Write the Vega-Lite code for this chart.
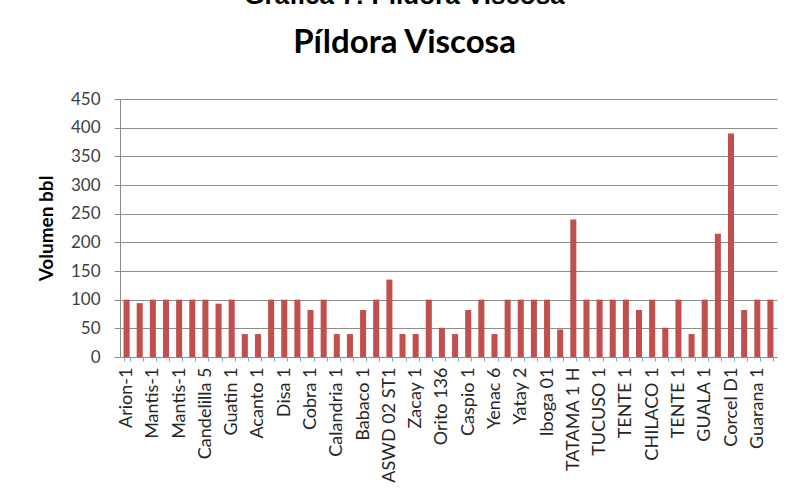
{
  "$schema": "https://vega.github.io/schema/vega-lite/v6.json",
  "autosize": "none",
  "width": 657,
  "height": 258,
  "padding": {"left": 120, "top": 99, "right": 11, "bottom": 136},
  "background": "white",
  "title": {
    "text": "Gráfica 7: Píldora Viscosa",
    "subtitle": "Píldora Viscosa",
    "anchor": "middle",
    "dx": -44,
    "offset": 30,
    "font": "Liberation Sans",
    "fontSize": 26,
    "fontWeight": "bold",
    "color": "#000000",
    "subtitleFont": "Lato",
    "subtitleFontSize": 33,
    "subtitleFontWeight": "bold",
    "subtitleColor": "#000000",
    "subtitlePadding": 18
  },
  "data": {
    "values": [
      {"pozo": "01|Arion-1", "volumen": 100},
      {"pozo": "02|", "volumen": 94},
      {"pozo": "03|Mantis-1", "volumen": 100},
      {"pozo": "04|", "volumen": 100},
      {"pozo": "05|Mantis-1", "volumen": 100},
      {"pozo": "06|", "volumen": 100},
      {"pozo": "07|Candelilla 5", "volumen": 100},
      {"pozo": "08|", "volumen": 93},
      {"pozo": "09|Guatin 1", "volumen": 100},
      {"pozo": "10|", "volumen": 40},
      {"pozo": "11|Acanto 1", "volumen": 40},
      {"pozo": "12|", "volumen": 100},
      {"pozo": "13|Disa 1", "volumen": 100},
      {"pozo": "14|", "volumen": 100},
      {"pozo": "15|Cobra 1", "volumen": 82},
      {"pozo": "16|", "volumen": 100},
      {"pozo": "17|Calandria 1", "volumen": 40},
      {"pozo": "18|", "volumen": 40},
      {"pozo": "19|Babaco 1", "volumen": 82},
      {"pozo": "20|", "volumen": 100},
      {"pozo": "21|ASWD 02 ST1", "volumen": 135},
      {"pozo": "22|", "volumen": 40},
      {"pozo": "23|Zacay 1", "volumen": 40},
      {"pozo": "24|", "volumen": 100},
      {"pozo": "25|Orito 136", "volumen": 51},
      {"pozo": "26|", "volumen": 40},
      {"pozo": "27|Caspio 1", "volumen": 82},
      {"pozo": "28|", "volumen": 100},
      {"pozo": "29|Yenac 6", "volumen": 40},
      {"pozo": "30|", "volumen": 100},
      {"pozo": "31|Yatay 2", "volumen": 100},
      {"pozo": "32|", "volumen": 100},
      {"pozo": "33|Iboga 01", "volumen": 100},
      {"pozo": "34|", "volumen": 48},
      {"pozo": "35|TATAMA 1 H", "volumen": 240},
      {"pozo": "36|", "volumen": 100},
      {"pozo": "37|TUCUSO 1", "volumen": 100},
      {"pozo": "38|", "volumen": 100},
      {"pozo": "39|TENTE 1", "volumen": 100},
      {"pozo": "40|", "volumen": 82},
      {"pozo": "41|CHILACO 1", "volumen": 100},
      {"pozo": "42|", "volumen": 51},
      {"pozo": "43|TENTE 1", "volumen": 100},
      {"pozo": "44|", "volumen": 40},
      {"pozo": "45|GUALA 1", "volumen": 100},
      {"pozo": "46|", "volumen": 215},
      {"pozo": "47|Corcel D1", "volumen": 390},
      {"pozo": "48|", "volumen": 82},
      {"pozo": "49|Guarana 1", "volumen": 100},
      {"pozo": "50|", "volumen": 100}
    ]
  },
  "mark": {"type": "bar", "color": "#c0504d"},
  "encoding": {
    "x": {
      "field": "pozo",
      "type": "nominal",
      "sort": null,
      "scale": {"paddingInner": 0.54, "paddingOuter": 0.27},
      "axis": {
        "title": null,
        "labelExpr": "split(datum.value, '|')[1]",
        "labelAngle": 270,
        "labelFont": "Lato",
        "labelFontSize": 18,
        "labelColor": "#262626",
        "labelPadding": 6,
        "labelOverlap": false,
        "labelBound": false,
        "labelLimit": 200,
        "tickBand": "extent",
        "tickSize": 4,
        "tickColor": "#5fb3c0",
        "domainColor": "#8c8c8c",
        "grid": false
      }
    },
    "y": {
      "field": "volumen",
      "type": "quantitative",
      "scale": {"domain": [0, 450], "nice": false},
      "axis": {
        "title": "Volumen bbl",
        "titleFont": "Lato",
        "titleFontSize": 19,
        "titleFontWeight": "bold",
        "titleColor": "#000000",
        "titlePadding": 14,
        "values": [0, 50, 100, 150, 200, 250, 300, 350, 400, 450],
        "labelFont": "Lato",
        "labelFontSize": 17,
        "labelColor": "#404040",
        "labelPadding": 14,
        "tickSize": 6,
        "tickColor": "#8c8c8c",
        "domainColor": "#8c8c8c",
        "gridColor": "#8c8c8c",
        "gridWidth": 1
      }
    }
  },
  "config": {"view": {"stroke": null}}
}
